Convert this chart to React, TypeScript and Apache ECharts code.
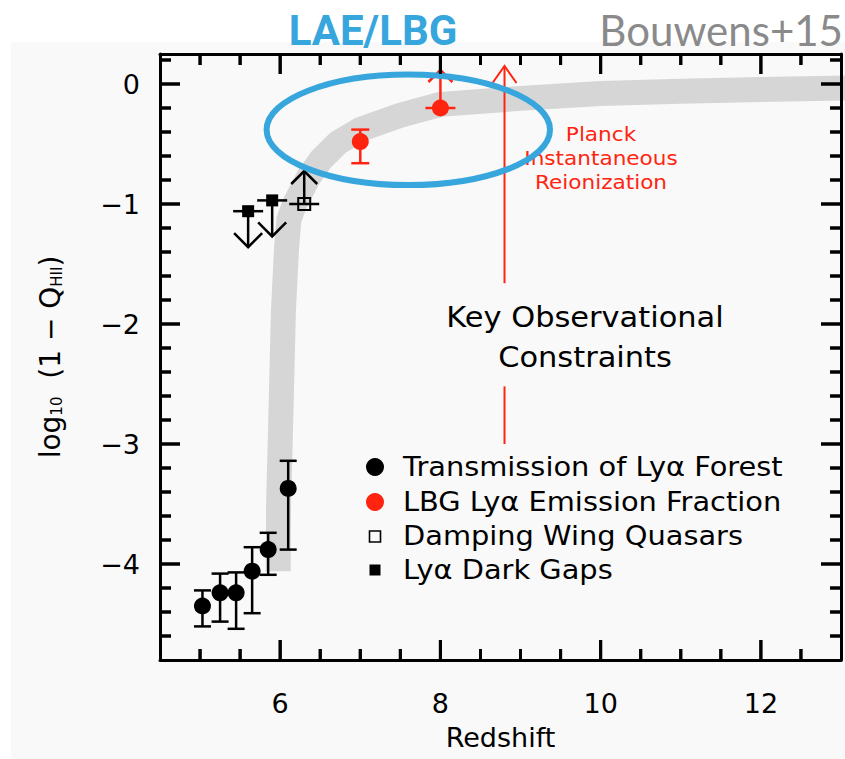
import React, { useEffect, useRef } from 'react';
import * as echarts from 'echarts';

const FONT = '"DejaVu Sans", sans-serif';
const RED = '#ff2410';
const BLUE = '#37a6dc';

// Axis extents and ticks
const xRange = [4.5, 13];
const yRange = [-4.8, 0.25];
const xTickLabels = [6, 8, 10, 12];
const xMinorTicks = [5, 5.5, 6.5, 7, 7.5, 8.5, 9, 9.5, 10.5, 11, 11.5, 12.5];
const yTickLabels = [0, -1, -2, -3, -4];
const yMinorTicks = [0.2, -0.2, -0.4, -0.6, -0.8, -1.2, -1.4, -1.6, -1.8, -2.2, -2.4, -2.6, -2.8,
  -3.2, -3.4, -3.6, -3.8, -4.2, -4.4, -4.6];

// Model reionization history (grey band)
const bandZ = [5.975, 5.98, 6.0, 6.04, 6.08, 6.11, 6.18, 6.25, 6.36, 6.51, 6.72, 7.0, 7.5, 8.0, 9.0, 10.0, 11.0, 12.0, 13.3];
const bandLog = [-4.06, -3.5, -3.0, -1.9, -1.36, -1.13, -1.0, -0.91, -0.77, -0.63, -0.49, -0.38, -0.26, -0.17, -0.12, -0.08, -0.06, -0.045, -0.03];

// Transmission of Lyα forest
const forestZ = [5.03, 5.25, 5.45, 5.65, 5.85, 6.1];
const forestLog = [-4.35, -4.24, -4.24, -4.06, -3.88, -3.37];
const forestLo = [-4.52, -4.48, -4.54, -4.41, -4.09, -3.88];
const forestHi = [-4.22, -4.08, -4.07, -3.86, -3.74, -3.14];

// LBG Lyα emission fraction
const lbgZ = [7.0];
const lbgLog = [-0.48];
const lbgLo = [-0.66];
const lbgHi = [-0.38];
const lbgLimitZ = [8.0];
const lbgLimitLog = [-0.2];

// Damping wing quasars (lower limit)
const dampZ = [6.3];
const dampLog = [-1.0];

// Lyα dark gaps (upper limits)
const gapZ = [5.6, 5.9];
const gapLog = [-1.06, -0.97];

// Planck instantaneous reionization marker: [z, bottom, gapStart, gapEnd, top]
const planck = [[8.8, -3.0, -2.52, -1.66, 0.15]];

const legendNames = [
  'Transmission of Lyα Forest',
  'LBG Lyα Emission Fraction',
  'Damping Wing Quasars',
  'Lyα Dark Gaps',
];

const MAJOR_LEN = 20;
const MINOR_LEN = 11;

const zip = (a: number[], b: number[]) => a.map((v, i) => [v, b[i]]);

const errorBarSeries = (name: string, z: number[], lo: number[], hi: number[], color: string, cap: number) => ({
  type: 'custom',
  name,
  z: 3,
  data: z.map((v, i) => [v, lo[i], hi[i]]),
  encode: { x: 0, y: [1, 2] },
  renderItem: (_p: any, api: any) => {
    const a = api.coord([api.value(0), api.value(1)]);
    const b = api.coord([api.value(0), api.value(2)]);
    const style = { stroke: color, lineWidth: 2.5 };
    return {
      type: 'group',
      children: [
        { type: 'line', shape: { x1: a[0], y1: a[1], x2: b[0], y2: b[1] }, style },
        { type: 'line', shape: { x1: a[0] - cap, y1: a[1], x2: a[0] + cap, y2: a[1] }, style },
        { type: 'line', shape: { x1: b[0] - cap, y1: b[1], x2: b[0] + cap, y2: b[1] }, style },
      ],
    };
  },
});

// dir: 1 for an upper limit (arrow down), -1 for a lower limit (arrow up)
const limitSeries = (name: string, z: number[], v: number[], dir: number, len: number, arm: number, color: string) => ({
  type: 'custom',
  name,
  z: 3,
  data: zip(z, v),
  encode: { x: 0, y: 1 },
  renderItem: (_p: any, api: any) => {
    const [x, y] = api.coord([api.value(0), api.value(1)]);
    const tip = y + dir * len;
    const style = { stroke: color, lineWidth: 2.5, fill: 'none' };
    return {
      type: 'group',
      children: [
        { type: 'line', shape: { x1: x - 15, y1: y, x2: x + 15, y2: y }, style },
        { type: 'line', shape: { x1: x, y1: y, x2: x, y2: tip }, style },
        {
          type: 'polyline',
          shape: { points: [[x - arm, tip - dir * arm], [x, tip], [x + arm, tip - dir * arm]] },
          style,
        },
      ],
    };
  },
});

// Frame ticks as bar-shaped scatter symbols anchored on the frame edges
const tickMarks = (name: string, data: number[][], size: number[], offset: number[]) => ({
  type: 'scatter', name, z: 6, silent: true, clip: false,
  symbol: 'rect', symbolSize: size, symbolOffset: offset,
  data, itemStyle: { color: '#000', opacity: 1 },
});
const tickSeries = [
  tickMarks('xMajorBottom', xTickLabels.map((v) => [v, yRange[0]]), [3, MAJOR_LEN], [0, -MAJOR_LEN / 2]),
  tickMarks('xMinorBottom', xMinorTicks.map((v) => [v, yRange[0]]), [3, MINOR_LEN], [0, -MINOR_LEN / 2]),
  tickMarks('xMajorTop', xTickLabels.map((v) => [v, yRange[1]]), [3, MAJOR_LEN], [0, MAJOR_LEN / 2]),
  tickMarks('xMinorTop', xMinorTicks.map((v) => [v, yRange[1]]), [3, MINOR_LEN], [0, MINOR_LEN / 2]),
  tickMarks('yMajorLeft', yTickLabels.map((v) => [xRange[0], v]), [MAJOR_LEN, 3], [MAJOR_LEN / 2, 0]),
  tickMarks('yMinorLeft', yMinorTicks.map((v) => [xRange[0], v]), [MINOR_LEN, 3], [MINOR_LEN / 2, 0]),
  tickMarks('yMajorRight', yTickLabels.map((v) => [xRange[1], v]), [MAJOR_LEN, 3], [-MAJOR_LEN / 2, 0]),
  tickMarks('yMinorRight', yMinorTicks.map((v) => [xRange[1], v]), [MINOR_LEN, 3], [-MINOR_LEN / 2, 0]),
];

const axisLine = { show: true, onZero: false, lineStyle: { color: '#000', width: 3 } };
const labelStyle = { fontSize: 27, fontFamily: FONT, color: '#000' };

const minus = (v: number) => (v < 0 ? '\u2212' + Math.abs(v) : String(v));

const baseX = { type: 'value', min: xRange[0], max: xRange[1], splitLine: { show: false }, axisTick: { show: false }, z: 5 };
const baseY = { type: 'value', min: yRange[0], max: yRange[1], splitLine: { show: false }, axisTick: { show: false }, z: 5 };

const textStyle = (text: string, size: number, fill: string, align: string, extra: any = {}) => ({
  text, fontSize: size, fontFamily: FONT, fill,
  textAlign: align, align, textVerticalAlign: 'middle', verticalAlign: 'middle', ...extra,
});

const makeGraphic = (): any[] => [
  { type: 'rect', z: -10, silent: true, shape: { x: 0, y: 0, width: 845, height: 42 }, style: { fill: '#ffffff' } },
  { type: 'rect', z: -10, silent: true, shape: { x: 0, y: 0, width: 11, height: 759 }, style: { fill: '#ffffff' } },
  {
    type: 'text', x: 373, y: 30, z: 10,
    style: textStyle('LAE/LBG', 42, BLUE, 'center', { fontWeight: 'bold', fontFamily: 'Roboto, sans-serif' }),
  },
  {
    type: 'text', x: 843, y: 30, z: 10,
    style: textStyle('Bouwens+15', 42, '#8a8a8a', 'right', { fontFamily: 'Lato, sans-serif' }),
  },
  ...['Planck', 'Instantaneous', 'Reionization'].map((t, i) => ({
    type: 'text', x: 601, y: 134 + i * 24.3, z: 10, scaleX: 1.08,
    style: textStyle(t, 20, RED, 'center'),
  })),
  ...['Key Observational', 'Constraints'].map((t, i) => ({
    type: 'text', x: 585, y: 317 + i * 40, z: 10, scaleX: 1.05,
    style: textStyle(t, 29, '#000', 'center'),
  })),
  // legend
  { type: 'circle', z: 10, shape: { cx: 375, cy: 467, r: 9 }, style: { fill: '#000' } },
  { type: 'circle', z: 10, shape: { cx: 375, cy: 502, r: 9 }, style: { fill: RED } },
  { type: 'rect', z: 10, shape: { x: 369.5, y: 531, width: 11, height: 11 }, style: { fill: 'none', stroke: '#000', lineWidth: 1.6 } },
  { type: 'rect', z: 10, shape: { x: 369.5, y: 564.5, width: 11, height: 11 }, style: { fill: '#000' } },
  ...legendNames.map((t, i) => ({
    type: 'text', x: 403, y: [467, 502, 536.5, 570][i], z: 10, scaleX: 1.11,
    style: textStyle(t, 26, '#000', 'left'),
  })),
  {
    type: 'ellipse', z: 20, silent: true,
    shape: { cx: 408.3, cy: 129.8, rx: 141.7, ry: 55.3 },
    style: { fill: 'none', stroke: BLUE, lineWidth: 6 },
  },
];

const makeOption = (extraGraphic: any[] = []): any => ({
  animation: false,
  backgroundColor: '#f9f9f9',
  grid: { left: 160, right: 4, top: 54, bottom: 99 },
  xAxis: [
    {
      ...baseX, position: 'bottom', axisLine,
      axisLabel: { ...labelStyle, customValues: xTickLabels, margin: 30 },
      name: 'Redshift', nameLocation: 'middle', nameGap: 64, nameTextStyle: { ...labelStyle },
    },
    { ...baseX, position: 'top', axisLine, axisLabel: { show: false } },
  ],
  yAxis: [
    {
      ...baseY, position: 'left', axisLine,
      axisLabel: { ...labelStyle, customValues: yTickLabels, margin: 20, formatter: minus },
      name: '{m|log}{s|10}{m|  (1 \u2212 Q}{s|HII}{m|)}',
      nameLocation: 'middle', nameRotate: 90, nameGap: 96,
      nameTextStyle: {
        ...labelStyle,
        rich: {
          m: { fontSize: 28, fontFamily: FONT, color: '#000', lineHeight: 32, verticalAlign: 'bottom' },
          s: { fontSize: 15, fontFamily: FONT, color: '#000', lineHeight: 15, verticalAlign: 'bottom' },
        },
      },
    },
    { ...baseY, position: 'right', axisLine, axisLabel: { show: false } },
  ],
  series: [
    {
      type: 'line', name: 'model', z: 1, silent: true, symbol: 'none', clip: true,
      data: zip(bandZ, bandLog),
      lineStyle: { color: '#d6d6d6', width: 25, cap: 'butt', join: 'round' },
    },
    {
      type: 'custom', name: 'Planck', z: 2, data: planck, encode: { x: 0, y: [1, 2, 3, 4] },
      renderItem: (_p: any, api: any) => {
        const b = api.coord([api.value(0), api.value(1)]);
        const g0 = api.coord([api.value(0), api.value(2)]);
        const g1 = api.coord([api.value(0), api.value(3)]);
        const t = api.coord([api.value(0), api.value(4)]);
        const style = { stroke: RED, lineWidth: 2, fill: 'none' };
        return {
          type: 'group',
          children: [
            { type: 'line', shape: { x1: b[0], y1: b[1], x2: g0[0], y2: g0[1] }, style },
            { type: 'line', shape: { x1: g1[0], y1: g1[1], x2: t[0], y2: t[1] }, style },
            { type: 'polyline', shape: { points: [[t[0] - 12, t[1] + 17], [t[0], t[1]], [t[0] + 12, t[1] + 17]] }, style },
          ],
        };
      },
    },
    errorBarSeries('forestErr', forestZ, forestLo, forestHi, '#000', 8.5),
    errorBarSeries('lbgErr', lbgZ, lbgLo, lbgHi, RED, 9),
    limitSeries('lbgLimit', lbgLimitZ, lbgLimitLog, -1, 38, 12, RED),
    limitSeries('dampLimit', dampZ, dampLog, -1, 33, 13, '#000'),
    limitSeries('gapLimit', gapZ, gapLog, 1, 36, 14, '#000'),
    {
      type: 'scatter', name: legendNames[0], z: 4, symbol: 'circle', symbolSize: 17,
      data: zip(forestZ, forestLog), itemStyle: { color: '#000', opacity: 1 },
    },
    {
      type: 'scatter', name: legendNames[1], z: 4, symbol: 'circle', symbolSize: 17,
      data: zip(lbgZ.concat(lbgLimitZ), lbgLog.concat(lbgLimitLog)), itemStyle: { color: RED, opacity: 1 },
    },
    {
      type: 'scatter', name: legendNames[2], z: 4, symbol: 'rect', symbolSize: 12,
      data: zip(dampZ, dampLog), itemStyle: { color: 'rgba(0,0,0,0)', borderColor: '#000', borderWidth: 2, opacity: 1 },
    },
    {
      type: 'scatter', name: legendNames[3], z: 4, symbol: 'rect', symbolSize: 12,
      data: zip(gapZ, gapLog), itemStyle: { color: '#000', opacity: 1 },
    },
    ...tickSeries,
  ],
  graphic: [...makeGraphic(), ...extraGraphic],
});

// Pixel position of a data point on the main x/y axes
function pointToPixel(chart: any, x: number, y: number): number[] | null {
  const finders: any[] = [{ gridIndex: 0 }, { xAxisIndex: 0, yAxisIndex: 0 }, 'grid'];
  for (const f of finders) {
    try {
      const p = chart.convertToPixel(f, [x, y]);
      if (Array.isArray(p) && isFinite(p[0]) && isFinite(p[1])) return p;
    } catch (e) {
      // try the next finder
    }
  }
  try {
    const model = chart.getModel();
    const xa = model.getComponent('xAxis', 0).axis;
    const ya = model.getComponent('yAxis', 0).axis;
    return [xa.toGlobalCoord(xa.dataToCoord(x)), ya.toGlobalCoord(ya.dataToCoord(y))];
  } catch (e) {
    return null;
  }
}

// Inward-pointing frame ticks on all four sides, positioned through the axis scales
function frameTicks(chart: any): any[] {
  const out: any[] = [];
  const seg = (x1: number, y1: number, x2: number, y2: number) =>
    out.push({ type: 'line', z: 30, shape: { x1, y1, x2, y2 }, style: { stroke: '#000', lineWidth: 3 } });
  const addX = (vals: number[], len: number) => vals.forEach((v) => {
    const b = pointToPixel(chart, v, yRange[0]);
    const t = pointToPixel(chart, v, yRange[1]);
    if (!b || !t) return;
    seg(b[0], b[1], b[0], b[1] - len);
    seg(t[0], t[1], t[0], t[1] + len);
  });
  const addY = (vals: number[], len: number) => vals.forEach((v) => {
    const l = pointToPixel(chart, xRange[0], v);
    const r = pointToPixel(chart, xRange[1], v);
    if (!l || !r) return;
    seg(l[0], l[1], l[0] + len, l[1]);
    seg(r[0], r[1], r[0] - len, r[1]);
  });
  addX(xTickLabels, MAJOR_LEN);
  addX(xMinorTicks, MINOR_LEN);
  addY(yTickLabels, MAJOR_LEN);
  addY(yMinorTicks, MINOR_LEN);
  return out;
}

export default function App() {
  const ref = useRef<HTMLDivElement>(null);
  useEffect(() => {
    const chart = echarts.init(ref.current!, null, { renderer: 'svg' });
    chart.setOption(makeOption());
    try {
      const ticks = frameTicks(chart);
      if (ticks.length) chart.setOption(makeOption(ticks), true);
    } catch (e) {
      // keep the first render
    }
    return () => chart.dispose();
  }, []);
  return <div ref={ref} style={{ position: 'fixed', left: 0, top: 0, width: 845, height: 759 }} />;
}
